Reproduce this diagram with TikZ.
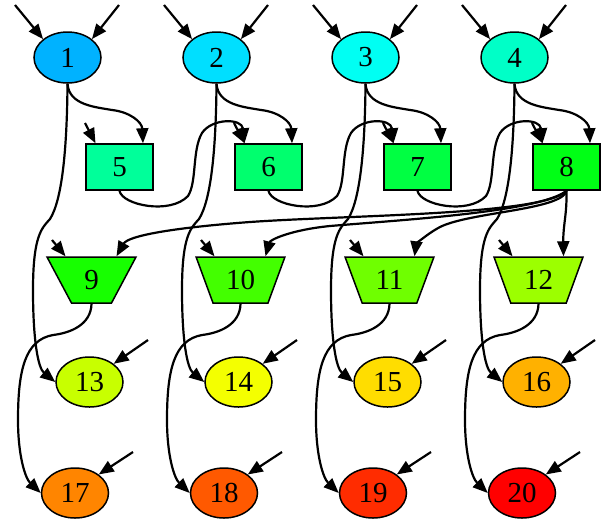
\documentclass[tikz,border=0pt]{standalone}
\usepackage{fontspec}
\setmainfont{Liberation Serif}
\usetikzlibrary{shapes.geometric,arrows.meta}

% fill colours: hue runs from sky blue (1) down to red (20)
\definecolor{c1}{rgb}{0,0.7,1}
\definecolor{c2}{rgb}{0,0.8737,1}
\definecolor{c3}{rgb}{0,1,0.9526}
\definecolor{c4}{rgb}{0,1,0.7789}
\definecolor{c5}{rgb}{0,1,0.6053}
\definecolor{c6}{rgb}{0,1,0.4316}
\definecolor{c7}{rgb}{0,1,0.2579}
\definecolor{c8}{rgb}{0,1,0.0842}
\definecolor{c9}{rgb}{0.0895,1,0}
\definecolor{c10}{rgb}{0.2632,1,0}
\definecolor{c11}{rgb}{0.4368,1,0}
\definecolor{c12}{rgb}{0.6105,1,0}
\definecolor{c13}{rgb}{0.7842,1,0}
\definecolor{c14}{rgb}{0.9579,1,0}
\definecolor{c15}{rgb}{1,0.8684,0}
\definecolor{c16}{rgb}{1,0.6947,0}
\definecolor{c17}{rgb}{1,0.5211,0}
\definecolor{c18}{rgb}{1,0.3474,0}
\definecolor{c19}{rgb}{1,0.1737,0}
\definecolor{c20}{rgb}{1,0,0}

\begin{document}
\begin{tikzpicture}[x=1pt,y=-1pt,
  vertex/.style={draw=black, line width=1.5pt, inner sep=0pt,
                 font=\fontsize{29}{31}\selectfont},
  ell/.style={vertex, ellipse, minimum width=67pt, minimum height=51pt},
  ellb/.style={vertex, ellipse, minimum width=67pt, minimum height=50pt},
  box/.style={vertex, rectangle, minimum width=67pt, minimum height=46pt},
  trap/.style={vertex, trapezium, shape border rotate=180,
               trapezium angle=65.5, trapezium stretches=true,
               minimum width=89pt, minimum height=46pt},
  arr/.style={line width=2.2pt, -{Triangle[length=15pt,width=12pt]}}
]
\useasboundingbox (0,0) rectangle (601,520);

% top row of ellipses
\node[ell, fill=c1] (n1) at (67.5,57.5) {1};
\node[ell, fill=c2] (n2) at (216.5,57.5) {2};
\node[ell, fill=c3] (n3) at (365.5,57.5) {3};
\node[ell, fill=c4] (n4) at (514.5,57.5) {4};
% boxes
\node[box, fill=c5] (n5) at (119.5,167) {5};
\node[box, fill=c6] (n6) at (268.5,167) {6};
\node[box, fill=c7] (n7) at (417.5,167) {7};
\node[box, fill=c8] (n8) at (566.5,167) {8};
% trapezia
\node[trap, fill=c9] (n9) at (91.5,280) {9};
\node[trap, fill=c10] (n10) at (240.5,280) {10};
\node[trap, fill=c11] (n11) at (389.5,280) {11};
\node[trap, fill=c12] (n12) at (538.5,280) {12};
% lower ellipses
\node[ellb, fill=c13] (n13) at (89.5,382) {13};
\node[ellb, fill=c14] (n14) at (238.5,382) {14};
\node[ellb, fill=c15] (n15) at (387.5,382) {15};
\node[ellb, fill=c16] (n16) at (536.5,382) {16};
\node[ellb, fill=c17] (n17) at (75,493) {17};
\node[ellb, fill=c18] (n18) at (224,493) {18};
\node[ellb, fill=c19] (n19) at (373,493) {19};
\node[ellb, fill=c20] (n20) at (522,493) {20};

% the four columns share the same wiring
\foreach \c [evaluate=\c as \dx using 149*\c] in {0,1,2,3} {
  \pgfmathtruncatemacro\colTop{\c+1}
  \pgfmathtruncatemacro\colBox{\c+5}
  \pgfmathtruncatemacro\colNext{\c+6}
  \pgfmathtruncatemacro\colTrap{\c+9}
  \pgfmathtruncatemacro\colMid{\c+13}
  \pgfmathtruncatemacro\colBot{\c+17}
  \begin{scope}[xshift=\dx]
    % open inputs
    \coordinate (inA\c) at (15,5);
    \coordinate (inB\c) at (119,5);
    \coordinate (inC\c) at (85,123);
    \coordinate (inD\c) at (52,240);
    \coordinate (inE\c) at (148,340);
    \coordinate (inF\c) at (133,452);
    \draw[arr] (inA\c) -- (n\colTop.143);
    \draw[arr] (inB\c) -- (n\colTop.37);
    \draw[arr] (inC\c) -- ([xshift=-24pt]n\colBox.north);
    \draw[arr] (inD\c) -- ([xshift=-26pt]n\colTrap.north);
    \draw[arr] (inE\c) -- (n\colMid.37);
    \draw[arr] (inF\c) -- (n\colBot.38);
    % top ellipse to box
    \draw[arr] (n\colTop.south) .. controls (69,105) and (95,107) .. (112,110)
      .. controls (130,112) and (142,122) .. ([xshift=23.5pt]n\colBox.north);
    % top ellipse down to the middle ellipse
    \draw[arr] (n\colTop.south) .. controls (67,150) and (62,200) .. (50,219)
      .. controls (42,228) and (33,235) .. (33,290)
      .. controls (33,340) and (38,368) .. (n\colMid.west);
    % trapezium to bottom ellipse
    \draw[arr] (n\colTrap.south) .. controls (91,325) and (70,333) .. (53,335)
      .. controls (25,340) and (18,370) .. (18,420)
      .. controls (18,455) and (25,478) .. (n\colBot.west);
    % box chain
    \ifnum\c<3
      \draw[arr] (n\colBox.south) .. controls (122,205) and (170,215) .. (188,196)
        .. controls (197,182) and (192,150) .. (202,133)
        .. controls (212,118) and (242,118) .. ([xshift=-24pt]n\colNext.north);
    \fi
  \end{scope}
}

% box 8 fans out to every trapezium
\draw[arr] (n8.south) .. controls (545,215) and (350,215) .. (250,222)
  .. controls (170,228) and (128,236) .. ([xshift=25pt]n9.north);
\draw[arr] (n8.south) .. controls (540,212) and (400,220) .. (330,226)
  .. controls (290,230) and (270,240) .. ([xshift=25pt]n10.north);
\draw[arr] (n8.south) .. controls (562,210) and (470,212) .. (440,227)
  .. controls (425,235) and (416,245) .. ([xshift=25pt]n11.north);
\draw[arr] (n8.south) .. controls (567,215) and (563,225) .. ([xshift=25pt]n12.north);
\end{tikzpicture}
\end{document}
